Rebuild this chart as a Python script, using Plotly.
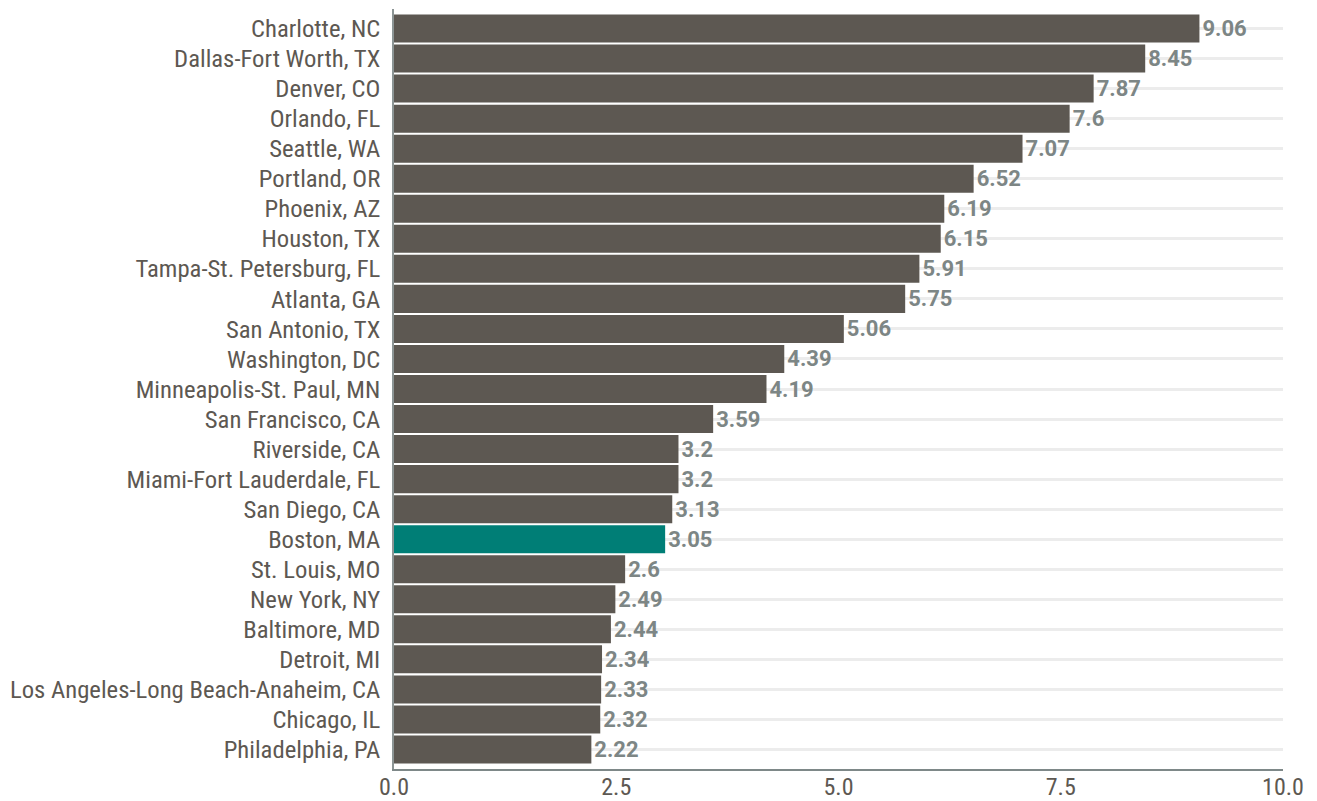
import plotly.graph_objects as go

metros = [
    "Charlotte, NC", "Dallas-Fort Worth, TX", "Denver, CO", "Orlando, FL",
    "Seattle, WA", "Portland, OR", "Phoenix, AZ", "Houston, TX",
    "Tampa-St. Petersburg, FL", "Atlanta, GA", "San Antonio, TX",
    "Washington, DC", "Minneapolis-St. Paul, MN", "San Francisco, CA",
    "Riverside, CA", "Miami-Fort Lauderdale, FL", "San Diego, CA",
    "Boston, MA", "St. Louis, MO", "New York, NY", "Baltimore, MD",
    "Detroit, MI", "Los Angeles-Long Beach-Anaheim, CA", "Chicago, IL",
    "Philadelphia, PA",
]
values = [9.06, 8.45, 7.87, 7.6, 7.07, 6.52, 6.19, 6.15, 5.91, 5.75, 5.06,
          4.39, 4.19, 3.59, 3.2, 3.2, 3.13, 3.05, 2.6, 2.49, 2.44, 2.34,
          2.33, 2.32, 2.22]
highlight = "Boston, MA"
x_ticks = [0, 2.5, 5, 7.5, 10]
x_tick_labels = ["0.0", "2.5", "5.0", "7.5", "10.0"]

BAR = "#5d5852"
TEAL = "#007e76"
colors = [TEAL if m == highlight else BAR for m in metros]
labels = [f"{v:g}" for v in values]

fig = go.Figure(go.Bar(
    x=values, y=metros, orientation="h",
    marker=dict(color=colors, line=dict(width=0)),
    text=labels, textposition="outside", cliponaxis=False,
    textfont=dict(family="Roboto, Liberation Sans, sans-serif", size=22,
                  color="#7d8685", weight="bold"),
    hoverinfo="x+y",
))

n = len(metros)
fig.update_layout(
    width=1317, height=801,
    margin=dict(l=394, r=34, t=9, b=32, pad=0, autoexpand=False),
    paper_bgcolor="white", plot_bgcolor="white",
    bargap=0.067,
    showlegend=False,
    font=dict(family="Roboto Condensed, sans-serif", color="#5d5852"),
)
fig.update_xaxes(
    range=[0, 10], tickmode="array", tickvals=x_ticks, ticktext=x_tick_labels,
    showgrid=False, zeroline=False, automargin=False,
    showline=True, linecolor="#7e8888", linewidth=1.5,
    ticks="", ticklen=0, tickfont=dict(size=24, color="#5d5852"),
    ticklabelstandoff=-5,
)
fig.update_yaxes(
    categoryorder="array", categoryarray=metros,
    tickmode="linear", tick0=0, dtick=1,
    range=[n - 1 + 0.65, -0.65], automargin=False,
    showgrid=True, gridcolor="#ececec", gridwidth=2.5,
    zeroline=False,
    showline=True, linecolor="#8c9595", linewidth=1.5,
    ticks="", ticklen=0, tickfont=dict(size=24.7, color="#5d5852"),
    ticklabelstandoff=7,
)

fig.write_html(
    "out.html",
    config={"displayModeBar": False},
    post_script="document.body.style.margin='0';document.body.style.overflow='hidden';",
)
